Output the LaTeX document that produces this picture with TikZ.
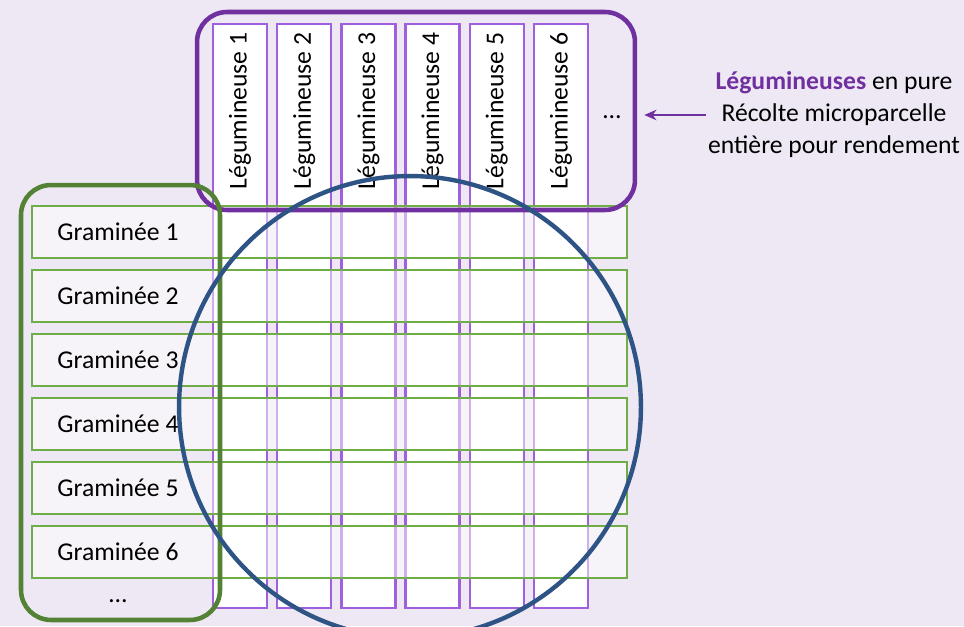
\documentclass[tikz,border=0pt]{standalone}
\usepackage{fontspec}
\setmainfont{Carlito}
\usepackage{xcolor}
\usetikzlibrary{calc,positioning,arrows.meta}

\definecolor{fond}{RGB}{238,232,244}
\definecolor{legline}{RGB}{160,95,220}
\definecolor{legdark}{RGB}{112,48,160}
\definecolor{gramline}{RGB}{112,173,71}
\definecolor{gramdark}{RGB}{84,130,53}
\definecolor{cercleblue}{RGB}{46,84,134}

\tikzset{
    legcol/.style={draw=legline, line width=1.3pt, fill=white, inner sep=0pt,
        minimum width=1.08cm, minimum height=11.68cm},
    legtxt/.style={rotate=90, inner sep=0pt},
    gramrow/.style={draw=gramline, line width=1.4pt, fill=white, fill opacity=0.5,
        inner sep=0pt, minimum width=11.9cm, minimum height=1.04cm},
    legbox/.style={draw=legdark, line width=2.6pt, rounded corners=0.6cm,
        minimum width=8.76cm, minimum height=3.96cm},
    grambox/.style={draw=gramdark, line width=2.6pt, rounded corners=0.6cm,
        minimum width=3.98cm, minimum height=8.7cm},
    mixcircle/.style={draw=cercleblue, line width=2.5pt, circle, minimum size=9.24cm}
}

\begin{document}
\begin{tikzpicture}[x=0.02cm, y=-0.02cm, font=\fontsize{14.6pt}{18.2pt}\selectfont]
    \useasboundingbox (0,0) rectangle (964,626);
    \fill[fond] (0,0) rectangle (964,626);
    % Draw the legume columns
    \foreach \i in {1,...,6} {
        \node[legcol] (l\i) at ({240+64.2*(\i-1)},316) {};
        \node[legtxt] (lt\i) at ({240+64.2*(\i-1)},111) {Légumineuse \i};
    }
    \node (ldots) at (612,117) {…};
    % Draw the grass rows on top
    \foreach \i in {1,...,6} {
        \node[gramrow] (g\i) at (329.5,{232+64*(\i-1)}) {};
        \node (gt\i) at (118,{232+64*(\i-1)}) {Graminée \i};
    }
    \node (gdots) at (118,601) {…};
    % Frames and the circle
    \node[legbox] (lbox) at (416,111) {};
    \node[grambox] (gbox) at (120.5,402.5) {};
    \node[mixcircle] (mix) at (410,407) {};
    % Note on the right
    \node[align=center, inner sep=1pt] (note) at (834,115)
        {\textcolor{legdark}{\textbf{Légumineuses}} en pure\\Récolte microparcelle\\entière pour rendement};
    \draw[legdark, line width=0.6pt, -{Stealth[length=7pt,width=6pt]}, shorten >=4pt]
        (note.west) -- (note.west -| lbox.east);
\end{tikzpicture}
\end{document}
